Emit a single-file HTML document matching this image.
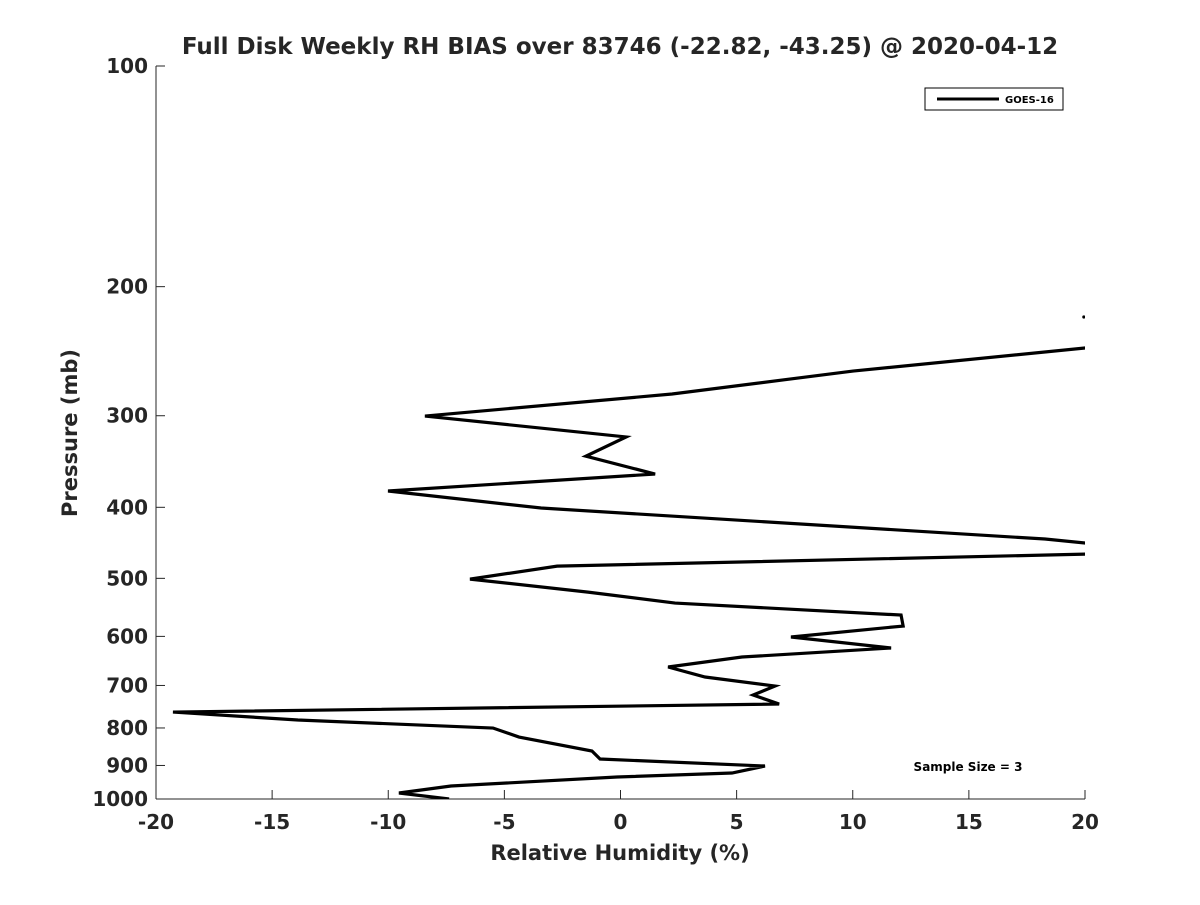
<!DOCTYPE html>
<html><head><meta charset="utf-8"><style>
body{margin:0;background:#fff;font-family:"Liberation Sans","DejaVu Sans",sans-serif}
svg text{font-family:"DejaVu Sans","Liberation Sans",sans-serif;font-weight:bold;fill:#262626}
</style></head><body>
<svg id="chart" width="1200" height="900" viewBox="0 0 1200 900" xmlns="http://www.w3.org/2000/svg">
<rect width="1200" height="900" fill="#fff"/>
<defs><clipPath id="plotclip"><rect x="156" y="66" width="929" height="733"/></clipPath></defs>
<text x="620" y="54" text-anchor="middle" font-size="23">Full Disk Weekly RH BIAS over 83746 (-22.82, -43.25) @ 2020-04-12</text>
<g id="axes"></g>
<g id="series" clip-path="url(#plotclip)"></g>
<text x="620" y="860" text-anchor="middle" font-size="21">Relative Humidity (%)</text>
<text transform="translate(77,433) rotate(-90)" text-anchor="middle" font-size="21">Pressure (mb)</text>
<g>
<rect x="925" y="88" width="138" height="22" fill="#fff" stroke="#000" stroke-width="1"/>
<line x1="937" y1="99" x2="999" y2="99" stroke="#000" stroke-width="3"/>
<text x="1005" y="103" font-size="10" style="fill:#000">GOES-16</text>
</g>
<text x="968" y="771" text-anchor="middle" font-size="12" style="fill:#000">Sample Size = 3</text>
</svg>
<script>
const xTicks=[-20,-15,-10,-5,0,5,10,15,20];
const yTicks=[100,200,300,400,500,600,700,800,900,1000];
const rhValues=[19.95,null,26,20.0,10.01,2.22,-8.42,0.24,-1.49,1.49,-10.01,-3.42,18.28,20.0,26,20.0,-2.73,-6.48,-1.40,2.35,12.08,12.17,7.34,11.65,5.23,2.05,3.64,6.65,5.71,6.83,-19.27,-13.89,-5.49,-4.37,-1.23,-0.88,6.22,4.80,-0.15,-7.30,-9.54,-7.38];
const pressures=[220,null,230,242.5,260.7,280.2,300.3,320.7,340.6,360.3,380.0,400.9,441.9,447.5,455,463.4,481.2,501.2,522.1,540.4,561.1,580.8,601.2,622.3,640.2,660.6,681.7,701.3,721.4,742.1,761.0,780.3,800.2,823.1,860.1,882.0,901.6,921.6,933.3,960.0,981.3,1000];
const X0=156,X1=1085,Y0=66,Y1=799;
const xs=v=>X0+(v+20)/40*(X1-X0);
const ys=p=>Y0+Math.log10(p/100)*(Y1-Y0);
const NS='http://www.w3.org/2000/svg';
const axes=document.getElementById('axes');
function mk(tag,attrs,parent){const e=document.createElementNS(NS,tag);for(const k in attrs)e.setAttribute(k,attrs[k]);parent.appendChild(e);return e;}
const xl=mk('line',{x1:X0,y1:Y1,x2:X1,y2:Y1,stroke:'#262626','stroke-width':1},axes);


const yl=mk('line',{x1:X0,y1:Y0,x2:X0,y2:Y1,stroke:'#262626','stroke-width':1},axes);


xTicks.forEach(v=>{
  const x=xs(v);
  const t=mk('line',{x1:x,y1:Y1,x2:x,y2:Y1-9,stroke:'#262626'},axes);
  
  
  const l=mk('text',{x:x,y:829,'text-anchor':'middle','font-size':20},axes);
  l.textContent=v;
  
  
});
yTicks.forEach(p=>{
  const y=ys(p);
  const t=mk('line',{x1:X0,y1:y,x2:X0+9,y2:y,stroke:'#262626'},axes);
  
  
  const l=mk('text',{x:148,y:y+7,'text-anchor':'end','font-size':20},axes);
  l.textContent=p;
  
  
});
const g=document.getElementById('series');
let segs=[],cur=[];
rhValues.forEach((v,i)=>{const p=pressures[i];if(v===null||p===null){if(cur.length)segs.push(cur);cur=[];}else cur.push([xs(v),ys(p)]);});
if(cur.length)segs.push(cur);
segs.forEach(s=>{
  if(s.length===1){
    const c=mk('circle',{cx:s[0][0],cy:s[0][1],r:1.6,fill:'#000'},g);
    
    
  } else {
    const pl=mk('polyline',{points:s.map(q=>q.join(',')).join(' '),fill:'none',stroke:'#000','stroke-width':3.2,'stroke-linejoin':'miter'},g);
    
    
  }
});
</script>
</body></html>
